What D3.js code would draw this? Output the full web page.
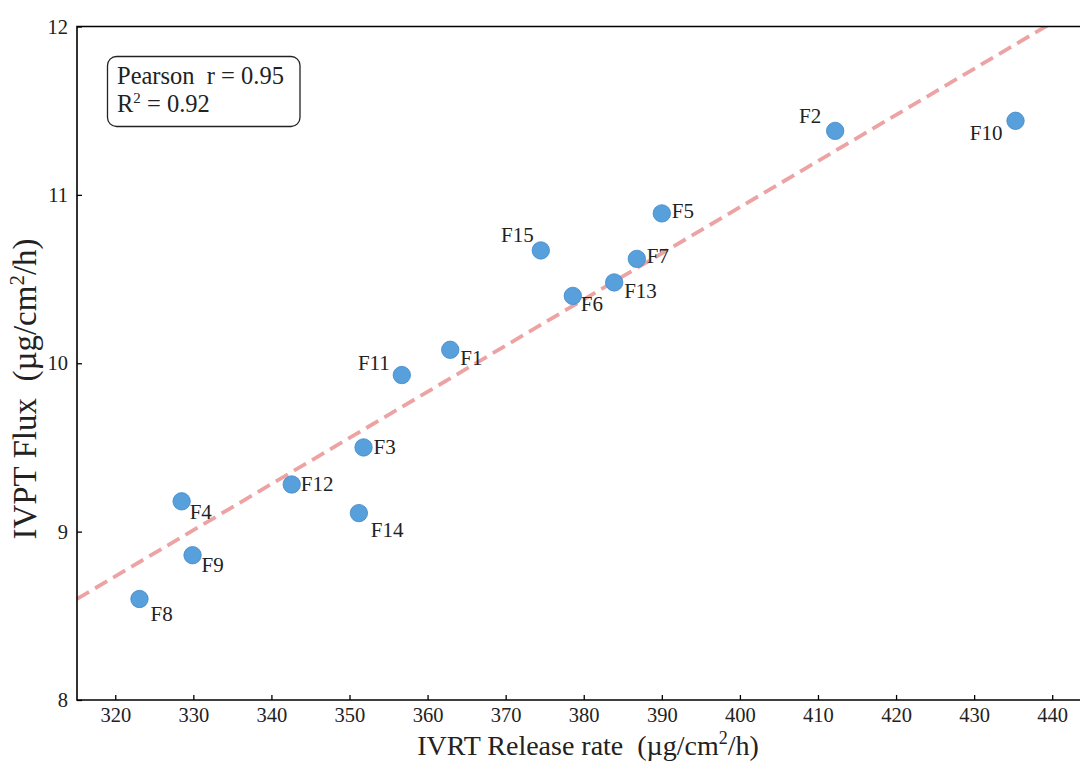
<!DOCTYPE html>
<html>
<head>
<meta charset="utf-8">
<script src="https://cdn.jsdelivr.net/npm/d3@7/dist/d3.min.js"></script>
<style>
  body { margin: 0; background: #fff; }
  svg { display: block; font-family: "Liberation Serif", "Times New Roman", serif; }
  text { white-space: pre; }
</style>
</head>
<body>
<svg id="chart" width="1080" height="764"></svg>
<script>
// ---- data ----
const names   = ["F1","F2","F3","F4","F5","F6","F7","F8","F9","F10","F11","F12","F13","F14","F15"];
const ivrt    = [362.9, 412.2, 351.8, 328.5, 390.0, 378.6, 386.8, 323.1, 329.9, 435.3, 356.7, 342.6, 383.9, 351.2, 374.5];
const ivpt    = [10.08, 11.38, 9.50, 9.18, 10.89, 10.40, 10.62, 8.60, 8.86, 11.44, 9.93, 9.28, 10.48, 9.11, 10.67];
const xTicks  = [320, 330, 340, 350, 360, 370, 380, 390, 400, 410, 420, 430, 440];
const yTicks  = [8, 9, 10, 11, 12];
const statLines = ["Pearson  r = 0.95", "R2 = 0.92"];

// ---- layout (label placement, not data) ----
const labelPlace = {
  F1: [10, 15, "start"], F2: [-14, -8, "end"], F3: [10, 7, "start"], F4: [8, 18, "start"],
  F5: [10, 5, "start"], F6: [8, 15, "start"], F7: [10, 4, "start"], F8: [11, 22, "start"],
  F9: [9, 17, "start"], F10: [-13, 19, "end"], F11: [-12, -5, "end"], F12: [9, 7, "start"],
  F13: [10, 16, "start"], F14: [12, 24, "start"], F15: [-7, -8, "end"]
};

const svg = d3.select("#chart");
const L = 77, T = 26.5, B = 700;
const x = d3.scaleLinear().domain([315.1, 445]).range([L, L + 129.9 * 7.808]);
const y = d3.scaleLinear().domain([8, 12]).range([B, T]);
const R = x.range()[1];

// clip
svg.append("defs").append("clipPath").attr("id", "clip")
  .append("rect").attr("x", L).attr("y", T).attr("width", R - L).attr("height", B - T);

// regression line (least squares from data)
const n = ivrt.length;
const mx = d3.mean(ivrt), my = d3.mean(ivpt);
let sxy = 0, sxx = 0;
for (let i = 0; i < n; i++) { sxy += (ivrt[i] - mx) * (ivpt[i] - my); sxx += (ivrt[i] - mx) ** 2; }
const slope = sxy / sxx, icpt = my - slope * mx;
const xd = x.domain();
svg.append("line")
  .attr("clip-path", "url(#clip)")
  .attr("x1", x(xd[0])).attr("y1", y(slope * xd[0] + icpt))
  .attr("x2", x(xd[1])).attr("y2", y(slope * xd[1] + icpt))
  .attr("stroke", "#eda3a3").attr("stroke-width", 3.8).attr("stroke-dasharray", "14,7");

// points
const pts = names.map((nm, i) => ({ nm, xv: ivrt[i], yv: ivpt[i] }));
svg.append("g").selectAll("circle").data(pts).join("circle")
  .attr("cx", d => x(d.xv)).attr("cy", d => y(d.yv)).attr("r", 8.7)
  .attr("fill", "#57a0db").attr("stroke", "#3f88c9").attr("stroke-width", 0.8);

// point labels
svg.append("g").selectAll("text").data(pts).join("text")
  .attr("x", d => x(d.xv) + labelPlace[d.nm][0])
  .attr("y", d => y(d.yv) + labelPlace[d.nm][1])
  .attr("text-anchor", d => labelPlace[d.nm][2])
  .attr("font-size", 21).attr("fill", "#222")
  .text(d => d.nm);

// axes
const xAxis = d3.axisBottom(x).tickValues(xTicks).tickSize(-5).tickPadding(7).tickFormat(d3.format("d"));
const yAxis = d3.axisLeft(y).tickValues(yTicks).tickSize(-5).tickPadding(9).tickFormat(d3.format("d"));
const gx = svg.append("g").attr("transform", `translate(0,${B})`).call(xAxis);
const gy = svg.append("g").attr("transform", `translate(${L},0)`).call(yAxis);
[gx, gy].forEach(g => {
  g.attr("font-family", "Liberation Serif, serif");
  g.select(".domain").remove();
  g.selectAll(".tick line").attr("stroke", "#000").attr("stroke-width", 1.3);
  g.selectAll(".tick text").attr("font-size", 20.5).attr("fill", "#222");
});

// spines
svg.append("path")
  .attr("d", `M${R},${T}H${L}V${B}H${R}`)
  .attr("fill", "none").attr("stroke", "#000").attr("stroke-width", 1.6);

// axis titles
const xt = svg.append("text").attr("x", 588).attr("y", 755).attr("text-anchor", "middle")
  .attr("font-size", 28).attr("fill", "#222");
xt.append("tspan").text("IVRT Release rate  (µg/cm");
xt.append("tspan").attr("font-size", 18).attr("dy", -11).text("2");
xt.append("tspan").attr("dy", 11).text("/h)");

const yt = svg.append("text").attr("transform", "translate(36,389) rotate(-90)")
  .attr("text-anchor", "middle").attr("font-size", 33).attr("fill", "#222");
yt.append("tspan").text("IVPT Flux  (µg/cm");
yt.append("tspan").attr("font-size", 21).attr("dy", -12).text("2");
yt.append("tspan").attr("dy", 12).text("/h)");

// stats box
svg.append("rect").attr("x", 107.5).attr("y", 56.5).attr("width", 192.5).attr("height", 70)
  .attr("rx", 9).attr("fill", "#fff").attr("stroke", "#222").attr("stroke-width", 1.3);
svg.append("text").attr("x", 117).attr("y", 84).attr("font-size", 24.5).attr("fill", "#222")
  .text(statLines[0]);
const t2 = svg.append("text").attr("x", 117).attr("y", 112).attr("font-size", 24.5).attr("fill", "#222");
t2.append("tspan").text(statLines[1].slice(0, 1));
t2.append("tspan").attr("font-size", 15).attr("dy", -9).text(statLines[1].slice(1, 2));
t2.append("tspan").attr("dy", 9).text(statLines[1].slice(2));
</script>
</body>
</html>
